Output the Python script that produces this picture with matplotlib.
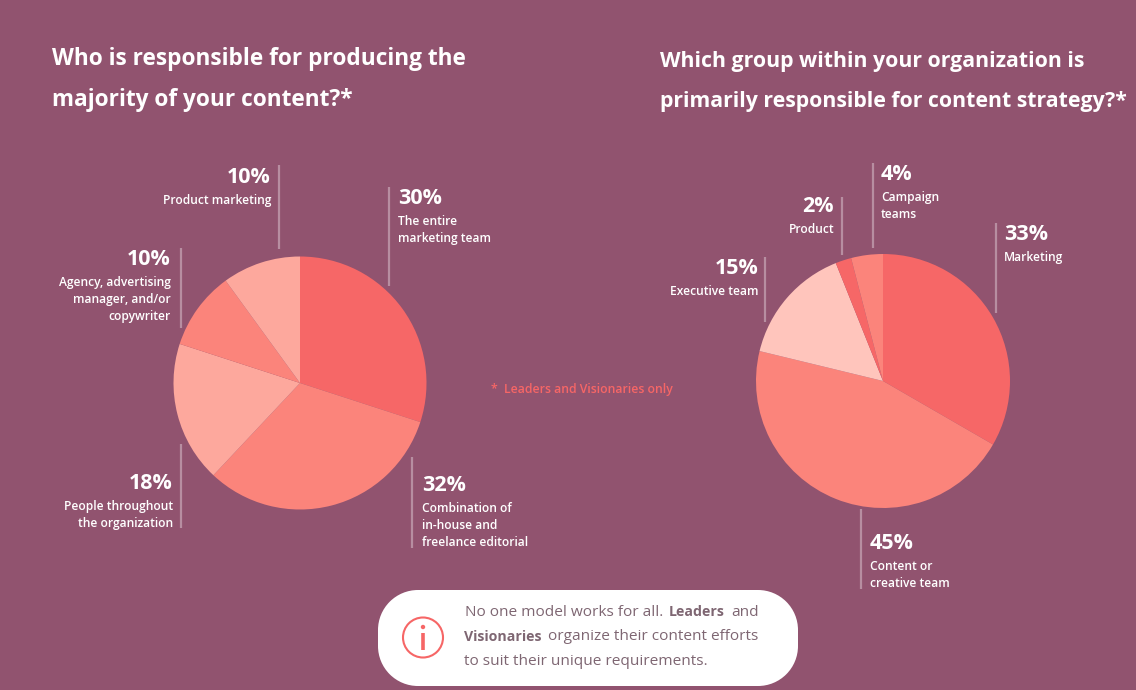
#!/usr/bin/env python3
import matplotlib
matplotlib.use("Agg")
import matplotlib.pyplot as plt
from matplotlib.patches import Rectangle, Circle

W, H = 1136, 690
bg_color = "#91536F"
white = "#FFFFFF"
coral = "#F66666"
grey_text = "#7E6672"
plt.rcParams['font.family'] = ['Open Sans', 'DejaVu Sans']

left_values = [30, 32, 18, 10, 10]
left_percents = ['30%', '32%', '18%', '10%', '10%']
left_names = ['The entire\nmarketing team', 'Combination of\nin-house and\nfreelance editorial',
              'People throughout\nthe organization', 'Agency, advertising\nmanager, and/or\ncopywriter',
              'Product marketing']
left_colors = ["#F66767", "#FB847B", "#FDA89D", "#FB847B", "#FDA89D"]

right_values = [33, 45, 15, 2, 4]
right_percents = ['33%', '45%', '15%', '2%', '4%']
right_names = ['Marketing', 'Content or\ncreative team', 'Executive team', 'Product', 'Campaign\nteams']
right_colors = ["#F66767", "#FB847B", "#FFC5BC", "#F66767", "#FB847B"]

left_title = ["Who is responsible for producing the", "majority of your content?*"]
right_title = ["Which group within your organization is", "primarily responsible for content strategy?*"]
footnote = "*  Leaders and Visionaries only"

# (x of text, y of percent, side, line x, line top, line bottom)
left_layout = [(398, 198.5, 'left', 389, 187, 286), (422, 485.5, 'left', 412, 457, 548),
               (173, 483.5, 'right', 181, 444, 528), (171, 259.5, 'right', 181, 248, 328),
               (271, 177.5, 'right', 279, 165, 249)]
right_layout = [(1004, 234.5, 'left', 996, 223, 313), (870, 543.5, 'left', 861, 509, 589),
                (759, 268.5, 'right', 765, 257, 322), (834, 206.5, 'right', 842, 197, 255),
                (881, 174.5, 'left', 873, 163, 248)]


def draw_pie(fig, values, colors, cx, cy, r):
    ax = fig.add_axes([(cx - r) / W, 1 - (cy + r) / H, 2 * r / W, 2 * r / H])
    ax.pie(values, colors=colors, startangle=90, counterclock=False, radius=1,
           wedgeprops={'linewidth': 0})
    ax.set_xlim(-1, 1)
    ax.set_ylim(-1, 1)
    ax.axis('off')


def draw_labels(ax, percents, names, layout):
    for pct, name, (x, y, side, lx, top, bottom) in zip(percents, names, layout):
        ax.text(x, y, pct, color=white, fontsize=15.5, fontweight='bold', ha=side, va='center')
        ax.plot([lx, lx], [top, bottom], color=white, alpha=0.35, lw=1.6, solid_capstyle='butt')
        for i, line in enumerate(name.split('\n')):
            ax.text(x, y + 23 + i * 17, line, color=white, fontsize=8.65, fontweight='semibold',
                    ha=side, va='center')


def draw_mixed(ax, fig, x, y, parts):
    renderer = fig.canvas.get_renderer()
    for txt, weight in parts:
        size = 10.2 if weight == 'bold' else 11.1
        t = ax.text(x, y, txt, color=grey_text, fontsize=size, fontweight=weight, va='center', ha='left')
        x += t.get_window_extent(renderer).width + 6


def draw_box(ax, x0, y0, x1, y1, r):
    ax.add_patch(Rectangle((x0 + r, y0), x1 - x0 - 2 * r, y1 - y0, fc=white, ec='none'))
    ax.add_patch(Rectangle((x0, y0 + r), x1 - x0, y1 - y0 - 2 * r, fc=white, ec='none'))
    for cx in (x0 + r, x1 - r):
        for cy in (y0 + r, y1 - r):
            ax.add_patch(Circle((cx, cy), r, fc=white, ec='none'))


fig = plt.figure(figsize=(W / 100, H / 100), dpi=100, facecolor=bg_color)
ax = fig.add_axes([0, 0, 1, 1], zorder=2)
ax.set_xlim(0, W)
ax.set_ylim(H, 0)
ax.axis('off')
ax.patch.set_alpha(0)

draw_pie(fig, left_values, left_colors, 300, 383, 126.5)
draw_pie(fig, right_values, right_colors, 883, 381, 127)

for i, line in enumerate(left_title):
    ax.text(52, 59 + i * 41, line, color=white, fontsize=16.3, fontweight='bold', va='center')
for i, line in enumerate(right_title):
    ax.text(660, 61 + i * 41, line, color=white, fontsize=15.3, fontweight='bold', va='center')

draw_labels(ax, left_percents, left_names, left_layout)
draw_labels(ax, right_percents, right_names, right_layout)

ax.text(491, 389.5, footnote, color=coral, fontsize=8.85, fontweight='semibold', va='center')

# callout box
draw_box(ax, 378, 590, 798, 686, 40)
ax.add_patch(Circle((423, 637.5), 20, fc='none', ec=coral, lw=1.5))
ax.add_patch(Circle((423, 627), 2.2, fc=coral, ec='none'))
ax.plot([423, 423], [633, 650], color=coral, lw=2.6, solid_capstyle='butt')

draw_mixed(ax, fig, 465, 612.5, [("No one model works for all.", 'normal'), ("Leaders", 'bold'), ("and", 'normal')])
draw_mixed(ax, fig, 464, 637, [("Visionaries", 'bold'), ("organize their content efforts", 'normal')])
draw_mixed(ax, fig, 464, 661.5, [("to suit their unique requirements.", 'normal')])

fig.savefig("out.png", dpi=100, facecolor=bg_color)
